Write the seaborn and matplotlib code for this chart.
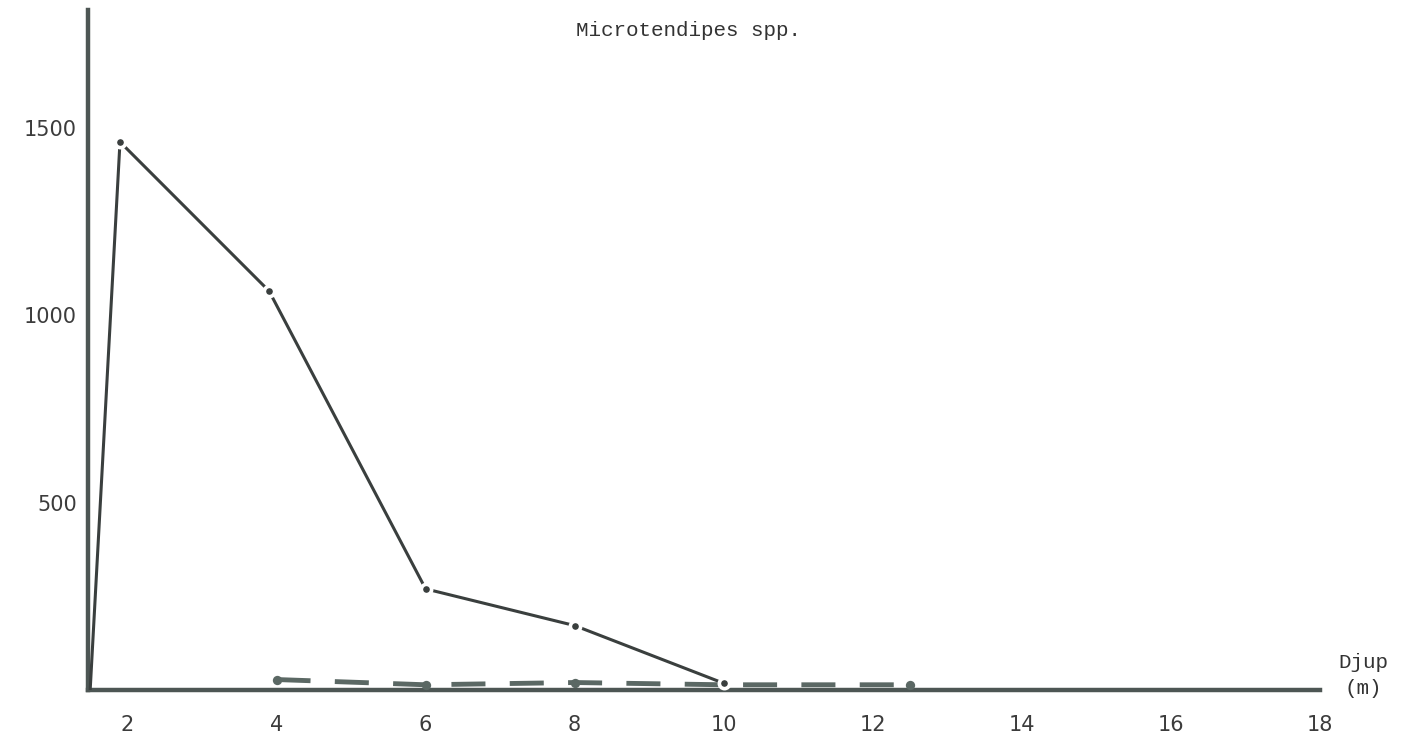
import matplotlib
matplotlib.use("Agg")
import matplotlib.pyplot as plt
import seaborn as sns
import pandas as pd

# Data
depth_solid = [1.5, 1.9, 3.9, 6.0, 8.0, 10.0]
count_solid = [0, 1463, 1065, 270, 172, 18]
depth_dashed = [4.0, 6.0, 8.0, 10.0, 12.5]
count_dashed = [28, 14, 20, 14, 14]
x_ticks = [2, 4, 6, 8, 10, 12, 14, 16, 18]
y_ticks = [500, 1000, 1500]
title = "Microtendipes spp."
xlabel_top = "Djup"
xlabel_bottom = "(m)"

sns.set_theme(style="white")
plt.rcParams['font.family'] = ['DejaVu Sans']

fig = plt.figure(figsize=(14.07, 7.43), dpi=100)
ax = fig.add_axes([0.0625, 0.0713, 0.8757, 0.9152])

axis_col = "#4d5654"
solid_col = "#3a3f3e"
dash_col = "#5b6864"
df_s = pd.DataFrame({"d": depth_solid, "n": count_solid})
df_d = pd.DataFrame({"d": depth_dashed, "n": count_dashed})

sns.lineplot(data=df_d, x="d", y="n", ax=ax, color=dash_col, linewidth=3.5,
             linestyle=(0, (7, 5)), zorder=3)
sns.scatterplot(data=df_d, x="d", y="n", ax=ax, color=dash_col, s=45,
                edgecolor=dash_col, linewidth=0, zorder=3.5)
sns.lineplot(data=df_s, x="d", y="n", ax=ax, color=solid_col, linewidth=2.2,
             zorder=4)
sns.scatterplot(data=df_s.iloc[1:], x="d", y="n", ax=ax, color=solid_col, s=55,
                edgecolor="white", linewidth=2.6, zorder=5)

ax.set_xlim(1.47, 18.0)
ax.set_ylim(0, 1815)
ax.set_xticks(x_ticks)
ax.set_yticks(y_ticks)
ax.set_xlabel("")
ax.set_ylabel("")
for s in ["top", "right"]:
    ax.spines[s].set_visible(False)
for s in ["left", "bottom"]:
    ax.spines[s].set_linewidth(3.2)
    ax.spines[s].set_color(axis_col)
ax.tick_params(axis="both", direction="out", length=6, width=2.5, color=axis_col,
               labelsize=15, labelcolor="#3c3c3c", pad=12)
ax.tick_params(axis="y", length=5, pad=3)
ax.grid(False)

fig.text(689/1407, 1 - 30/743, title, family="Liberation Mono", fontsize=15,
         color="#333333", ha="center", va="center")
fig.text(1338/1407, 1 - 662/743, xlabel_top, family="Liberation Mono", fontsize=15,
         color="#333333", ha="left", va="center")
fig.text(1345/1407, 1 - 688/743, xlabel_bottom, family="Liberation Mono", fontsize=15,
         color="#333333", ha="left", va="center")

fig.savefig("out.png", dpi=100, facecolor="white")
